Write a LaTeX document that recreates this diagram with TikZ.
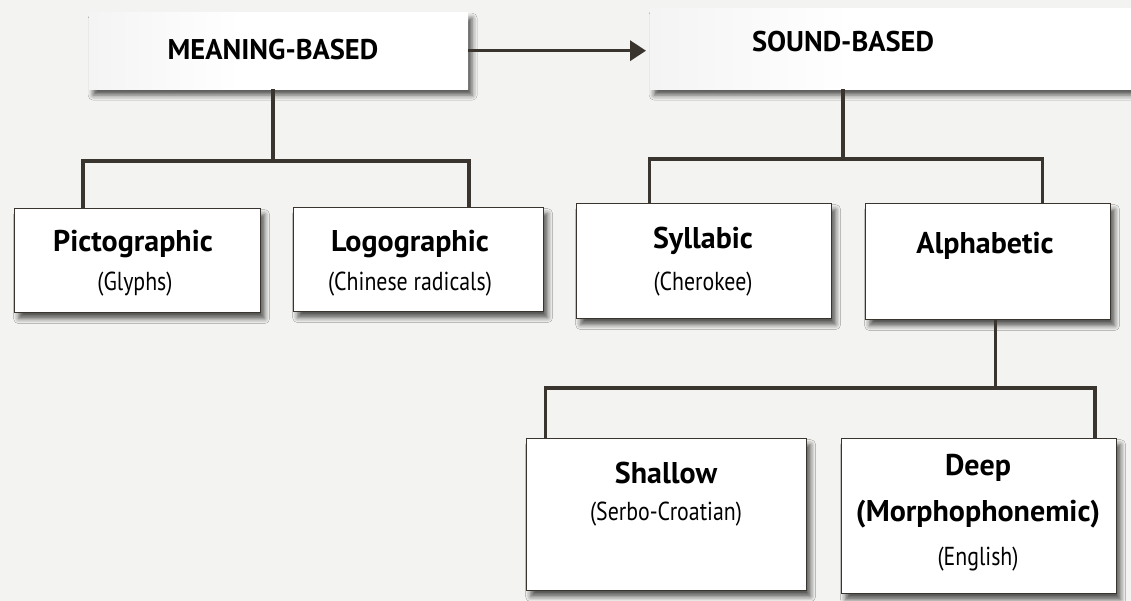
\documentclass[tikz,border=0pt]{standalone}
\usepackage{fontspec}
\setmainfont{PT Sans}
\newfontfamily\subfont[FakeStretch=0.84]{PT Sans}
\usetikzlibrary{shadows.blur,arrows.meta,calc}
\definecolor{ink}{HTML}{3A342F}
\definecolor{paper}{HTML}{F3F3F1}
\pgfdeclarehorizontalshading{topshade}{100bp}{color(0bp)=(gray!28); color(22bp)=(gray!10); color(45bp)=(white); color(100bp)=(white)}
\tikzset{
  boxbase/.style={draw=ink, line width=1.2pt, fill=white, anchor=north west, inner sep=0pt,
    blur shadow={shadow xshift=4pt, shadow yshift=-6pt, shadow blur radius=5pt, shadow opacity=65}},
  topbox/.style={anchor=north west, inner sep=0pt, shading=topshade, shading angle=0,
    blur shadow={shadow xshift=4pt, shadow yshift=-6pt, shadow blur radius=5pt, shadow opacity=65}},
  conn/.style={draw=ink, line width=3.5pt, line join=miter},
  title/.style={font=\fontsize{30}{32}\selectfont\bfseries, text=black, inner sep=0pt},
  sub/.style={font=\subfont\fontsize{26}{28}\selectfont, text=black, inner sep=0pt},
  head/.style={font=\fontsize{28.5}{30}\selectfont\bfseries, text=black, inner sep=0pt},
}
\begin{document}
\begin{tikzpicture}[x=1pt,y=-1pt]
\fill[paper] (0,0) rectangle (1131,601);
\useasboundingbox (0,0) rectangle (1131,601);
% top boxes
\node[topbox, minimum width=379pt, minimum height=77pt] (meaning) at (89,12) {};
\node[topbox, minimum width=500pt, minimum height=81pt] (sound) at (650,8) {};
\node[head] (meaningt) at (273,50) {MEANING-BASED};
\node[head] (soundt) at (843,42) {SOUND-BASED};
% second level
\node[boxbase, minimum width=246pt, minimum height=104pt] (picto) at (14,208) {};
\node[boxbase, minimum width=250pt, minimum height=104pt] (logo) at (293,207) {};
\node[boxbase, minimum width=255pt, minimum height=115pt] (syll) at (576,203) {};
\node[boxbase, minimum width=245pt, minimum height=116pt] (alpha) at (865,203) {};
% third level
\node[boxbase, minimum width=280pt, minimum height=152pt] (shallow) at (526,438) {};
\node[boxbase, minimum width=275pt, minimum height=155pt] (deep) at (841,438) {};
% texts
\node[title] (pictot) at (133,244) {Pictographic};
\node[sub] (pictos) at (135,284) {(Glyphs)};
\node[title] (logot) at (410,244) {Logographic};
\node[sub] (logos) at (410,284) {(Chinese radicals)};
\node[title] (syllt) at (703,241) {Syllabic};
\node[sub] (sylls) at (703,284) {(Cherokee)};
\node[title] (alphat) at (985,246) {Alphabetic};
\node[title] (shallowt) at (666,473) {Shallow};
\node[sub] (shallows) at (666,514) {(Serbo-Croatian)};
\node[title] (deept) at (978,468) {Deep};
\node[title] (deepm) at (978,514) {(Morphophonemic)};
\node[sub] (deeps) at (978,559) {(English)};
% junction points
\coordinate (barL) at (0,161);
\coordinate (barR) at (0,159);
\coordinate (barB) at (0,388);
\coordinate (pj) at ($(picto.north west)!0.28!(picto.north east)$);
\coordinate (lj) at ($(logo.north west)!0.70!(logo.north east)$);
\coordinate (sj) at ($(syll.north west)!0.286!(syll.north east)$);
\coordinate (aj) at ($(alpha.north west)!0.72!(alpha.north east)$);
\coordinate (ab) at ($(alpha.south west)!0.53!(alpha.south east)$);
\coordinate (shj) at ($(shallow.north west)!0.07!(shallow.north east)$);
\coordinate (dj) at ($(deep.north west)!0.92!(deep.north east)$);
\coordinate (mj) at ($(meaning.south west)!0.485!(meaning.south east)$);
\coordinate (soj) at (sound.south -| soundt.south);
% connectors
\draw[conn, -{Triangle[length=16pt,width=20pt]}, shorten >=4pt] (meaning.east) -- (meaning.east -| sound.west);
\draw[conn] (mj) -- (mj |- barL);
\draw[conn] (pj) -- (pj |- barL) -- (lj |- barL) -- (lj);
\draw[conn] (soj) -- (soj |- barR);
\draw[conn] (sj) -- (sj |- barR) -- (aj |- barR) -- (aj);
\draw[conn] (ab) -- (ab |- barB);
\draw[conn] (shj) -- (shj |- barB) -- (dj |- barB) -- (dj);
\end{tikzpicture}
\end{document}
